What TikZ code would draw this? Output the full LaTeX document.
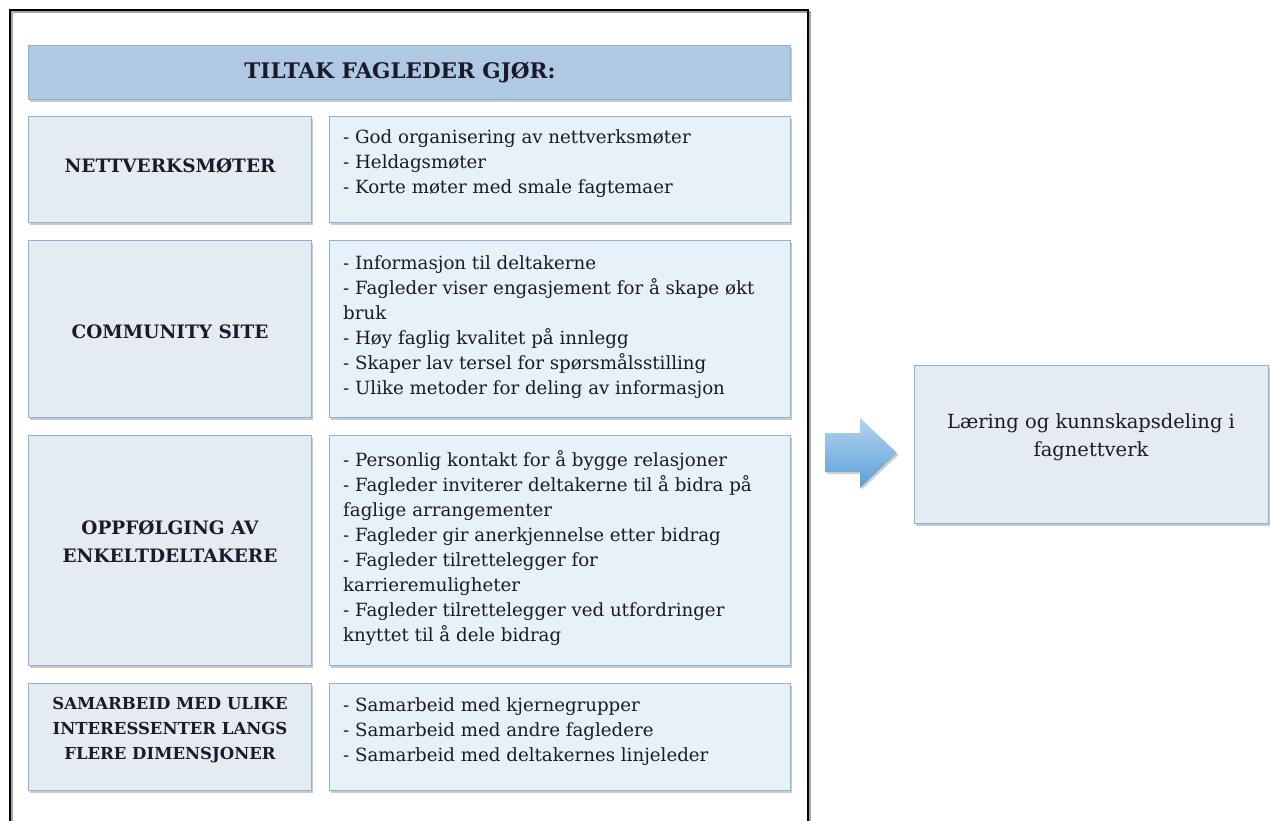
\documentclass[tikz,border=0pt]{standalone}
\usepackage{fontspec}
\setmainfont{DejaVu Serif}
\usetikzlibrary{shadows}
\definecolor{boxline}{HTML}{8CB2D9}
\definecolor{leftfill}{HTML}{E4ECF2}
\definecolor{rightfill}{HTML}{E7F1F8}
\definecolor{titlefill}{HTML}{AFC9E2}
\definecolor{txt}{HTML}{1A1A2A}
\definecolor{arrowtop}{HTML}{B5D3EF}
\definecolor{arrowbot}{HTML}{5B9FD6}
\tikzset{
  panel/.style={draw=boxline, line width=1.4pt, anchor=north west, inner sep=0pt,
    drop shadow={shadow xshift=1.5pt, shadow yshift=-2.5pt, opacity=0.35, fill=black!60}},
  leftpanel/.style={panel, fill=leftfill},
  rightpanel/.style={panel, fill=rightfill},
  headtxt/.style={font=\fontsize{18.5}{28}\selectfont\bfseries, align=center, text=txt, inner sep=0pt},
  listtxt/.style={font=\fontsize{18.2}{25}\selectfont, align=left, text=txt, anchor=north west, inner sep=0pt},
}
\begin{document}
\begin{tikzpicture}[x=1pt, y=-1pt]
\useasboundingbox (0,0) rectangle (1271,821);
\clip (0,0) rectangle (1271,821);
% outer frame
\draw[black!35, line width=2pt] (12,840) -- (12,12) -- (810,12) -- (810,840);
\draw[black, line width=2.5pt] (10,840) -- (10,10) -- (808,10) -- (808,840);
% title
\node[panel, fill=titlefill, minimum width=762pt, minimum height=54pt] (title) at (28,45) {};
\node[font=\fontsize{21.5}{26}\selectfont\bfseries, text=txt, inner sep=0pt] (titletxt) at (400,73) {TILTAK FAGLEDER GJØR:};
% row 1
\node[leftpanel, minimum width=283pt, minimum height=106pt] (l1) at (28,116) {};
\node[rightpanel, minimum width=461pt, minimum height=106pt] (r1) at (329,116) {};
\node[headtxt] (h1) at (170,166) {NETTVERKSMØTER};
\node[listtxt] (t1) at (343,129) {- God organisering av nettverksmøter\\- Heldagsmøter\\- Korte møter med smale fagtemaer};
% row 2
\node[leftpanel, minimum width=283pt, minimum height=177pt] (l2) at (28,240) {};
\node[rightpanel, minimum width=461pt, minimum height=177pt] (r2) at (329,240) {};
\node[headtxt] (h2) at (170,332) {COMMUNITY SITE};
\node[listtxt] (t2) at (343,255) {- Informasjon til deltakerne\\- Fagleder viser engasjement for å skape økt\\bruk\\- Høy faglig kvalitet på innlegg\\- Skaper lav tersel for spørsmålsstilling\\- Ulike metoder for deling av informasjon};
% row 3
\node[leftpanel, minimum width=283pt, minimum height=230pt] (l3) at (28,435) {};
\node[rightpanel, minimum width=461pt, minimum height=230pt] (r3) at (329,435) {};
\node[headtxt] (h3) at (170,541) {OPPFØLGING AV\\ENKELTDELTAKERE};
\node[listtxt] (t3) at (343,450) {- Personlig kontakt for å bygge relasjoner\\- Fagleder inviterer deltakerne til å bidra på\\faglige arrangementer\\- Fagleder gir anerkjennelse etter bidrag\\- Fagleder tilrettelegger for\\karrieremuligheter\\- Fagleder tilrettelegger ved utfordringer\\knyttet til å dele bidrag};
% row 4
\node[leftpanel, minimum width=283pt, minimum height=107pt] (l4) at (28,683) {};
\node[rightpanel, minimum width=461pt, minimum height=107pt] (r4) at (329,683) {};
\node[headtxt, font=\fontsize{16.5}{25}\selectfont\bfseries] (h4) at (170,730) {SAMARBEID MED ULIKE\\INTERESSENTER LANGS\\FLERE DIMENSJONER};
\node[listtxt] (t4) at (343,697) {- Samarbeid med kjernegrupper\\- Samarbeid med andre fagledere\\- Samarbeid med deltakernes linjeleder};
% arrow
\shade[top color=arrowtop, bottom color=arrowbot, drop shadow={shadow xshift=1.5pt, shadow yshift=-2pt, opacity=0.3, fill=black!60}]
  (825,433) -- (860,433) -- (860,418) -- (897,453) -- (860,488) -- (860,472) -- (825,472) -- cycle;
% result box
\node[leftpanel, minimum width=354pt, minimum height=158pt] (res) at (914,365) {};
\node[font=\fontsize{19.5}{28}\selectfont, align=center, text=txt, inner sep=0pt] (restxt) at (1091,437) {Læring og kunnskapsdeling i\\fagnettverk};
\end{tikzpicture}
\end{document}
